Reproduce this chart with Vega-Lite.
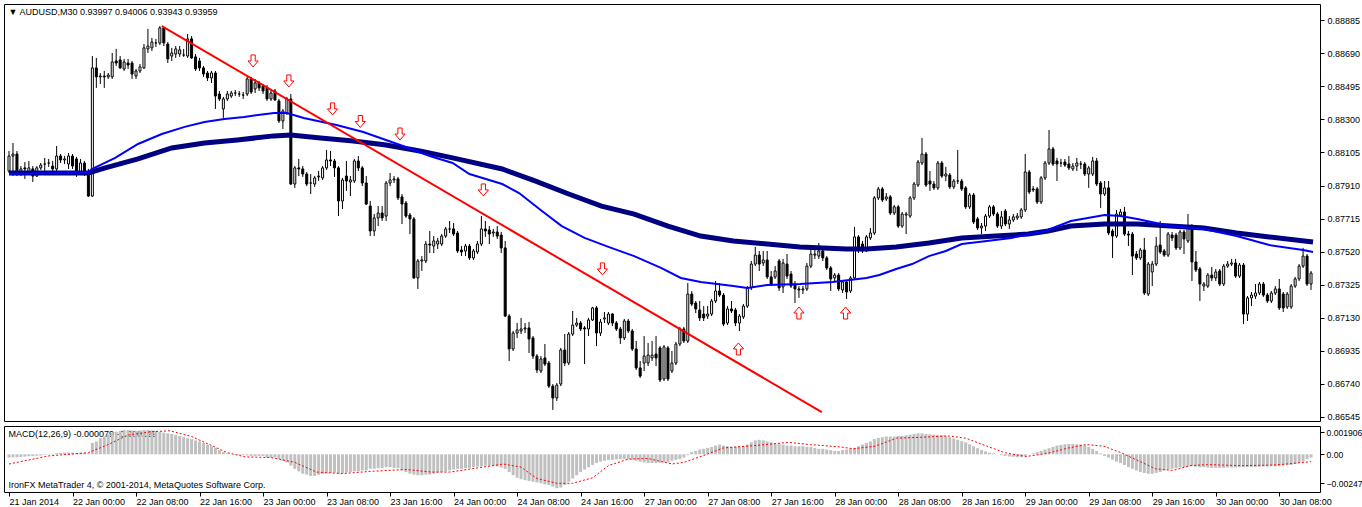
{
  "$schema": "https://vega.github.io/schema/vega-lite/v6.json",
  "padding": {"left": 3, "top": 3, "right": 0, "bottom": 0},
  "background": "white",
  "spacing": 2,
  "config": {
    "view": {"stroke": "black", "strokeWidth": 1},
    "font": "Liberation Sans",
    "axis": {"grid": false, "labelOverlap": false, "labelSeparation": 0, "labelBound": false}
  },
  "datasets": {
    "bars": [
      {"i":0,"o":0.87996,"h":0.88114,"l":0.87984,"c":0.88084,"m":-0.00028},
      {"i":1,"o":0.88084,"h":0.88161,"l":0.87966,"c":0.88096,"m":-0.00026},
      {"i":2,"o":0.88096,"h":0.88114,"l":0.87966,"c":0.87978,"m":-0.00025},
      {"i":3,"o":0.87978,"h":0.88025,"l":0.87966,"c":0.88008,"m":-0.00022},
      {"i":4,"o":0.88014,"h":0.88049,"l":0.87949,"c":0.88008,"m":-0.0002},
      {"i":5,"o":0.87984,"h":0.88055,"l":0.87972,"c":0.88014,"m":-0.00017},
      {"i":6,"o":0.88008,"h":0.88025,"l":0.87931,"c":0.87966,"m":-0.00015},
      {"i":7,"o":0.87966,"h":0.88025,"l":0.87961,"c":0.88014,"m":-0.00012},
      {"i":8,"o":0.88014,"h":0.88043,"l":0.88002,"c":0.88031,"m":-0.0001},
      {"i":9,"o":0.88037,"h":0.88073,"l":0.87996,"c":0.88037,"m":-0.00006},
      {"i":10,"o":0.88043,"h":0.88067,"l":0.8802,"c":0.88043,"m":-0.00003},
      {"i":11,"o":0.88025,"h":0.88055,"l":0.87996,"c":0.88008,"m":0.00005},
      {"i":12,"o":0.88008,"h":0.88143,"l":0.87996,"c":0.88084,"m":0.0001},
      {"i":13,"o":0.88084,"h":0.88096,"l":0.88043,"c":0.88061,"m":0.00012},
      {"i":14,"o":0.88061,"h":0.88084,"l":0.88037,"c":0.88067,"m":0.00014},
      {"i":15,"o":0.88037,"h":0.88102,"l":0.88008,"c":0.88084,"m":0.00015},
      {"i":16,"o":0.88084,"h":0.88096,"l":0.88008,"c":0.88025,"m":0.00014},
      {"i":17,"o":0.88067,"h":0.88079,"l":0.87961,"c":0.87978,"m":0.00012},
      {"i":18,"o":0.87984,"h":0.88067,"l":0.87972,"c":0.88043,"m":0.00013},
      {"i":19,"o":0.88043,"h":0.88055,"l":0.87966,"c":0.87984,"m":0.00012},
      {"i":20,"o":0.8799,"h":0.88008,"l":0.87843,"c":0.87848,"m":0.0001},
      {"i":21,"o":0.87848,"h":0.88674,"l":0.87843,"c":0.88604,"m":0.00097},
      {"i":22,"o":0.88604,"h":0.88663,"l":0.88486,"c":0.88551,"m":0.0011},
      {"i":23,"o":0.88551,"h":0.88574,"l":0.88509,"c":0.88556,"m":0.00138},
      {"i":24,"o":0.88556,"h":0.88586,"l":0.88486,"c":0.88551,"m":0.00152},
      {"i":25,"o":0.88551,"h":0.88574,"l":0.88539,"c":0.88562,"m":0.00171},
      {"i":26,"o":0.88551,"h":0.88692,"l":0.88539,"c":0.88639,"m":0.00185},
      {"i":27,"o":0.88645,"h":0.88716,"l":0.88615,"c":0.88633,"m":0.00193},
      {"i":28,"o":0.88651,"h":0.88674,"l":0.88598,"c":0.88604,"m":0.00201},
      {"i":29,"o":0.88598,"h":0.88657,"l":0.88586,"c":0.88639,"m":0.00207},
      {"i":30,"o":0.88633,"h":0.88657,"l":0.88598,"c":0.88621,"m":0.00207},
      {"i":31,"o":0.88633,"h":0.88645,"l":0.88539,"c":0.88568,"m":0.00204},
      {"i":32,"o":0.88556,"h":0.88598,"l":0.88539,"c":0.88586,"m":0.00201},
      {"i":33,"o":0.88586,"h":0.88627,"l":0.88574,"c":0.8861,"m":0.00204},
      {"i":34,"o":0.88604,"h":0.88745,"l":0.88598,"c":0.88722,"m":0.00207},
      {"i":35,"o":0.88716,"h":0.88834,"l":0.88692,"c":0.88733,"m":0.00207},
      {"i":36,"o":0.88722,"h":0.88781,"l":0.88704,"c":0.88757,"m":0.00204},
      {"i":37,"o":0.88751,"h":0.88775,"l":0.88728,"c":0.88751,"m":0.00201},
      {"i":38,"o":0.88751,"h":0.88851,"l":0.88739,"c":0.8884,"m":0.00193},
      {"i":39,"o":0.8884,"h":0.88846,"l":0.88733,"c":0.88751,"m":0.00185},
      {"i":40,"o":0.88745,"h":0.88757,"l":0.88633,"c":0.88657,"m":0.00179},
      {"i":41,"o":0.88674,"h":0.88722,"l":0.88645,"c":0.88692,"m":0.00174},
      {"i":42,"o":0.88686,"h":0.88733,"l":0.88663,"c":0.88716,"m":0.00166},
      {"i":43,"o":0.88686,"h":0.88733,"l":0.88669,"c":0.8871,"m":0.00157},
      {"i":44,"o":0.8868,"h":0.88716,"l":0.88669,"c":0.8868,"m":0.00146},
      {"i":45,"o":0.88674,"h":0.88804,"l":0.88663,"c":0.88775,"m":0.00138},
      {"i":46,"o":0.88775,"h":0.88792,"l":0.88657,"c":0.88663,"m":0.0013},
      {"i":47,"o":0.88669,"h":0.88686,"l":0.88586,"c":0.88598,"m":0.00119},
      {"i":48,"o":0.88645,"h":0.88663,"l":0.88586,"c":0.88604,"m":0.0011},
      {"i":49,"o":0.88604,"h":0.88615,"l":0.88551,"c":0.88568,"m":0.00097},
      {"i":50,"o":0.88574,"h":0.88586,"l":0.88527,"c":0.88545,"m":0.00083},
      {"i":51,"o":0.88545,"h":0.88586,"l":0.88515,"c":0.88574,"m":0.00069},
      {"i":52,"o":0.88574,"h":0.88586,"l":0.88362,"c":0.88438,"m":0.00055},
      {"i":53,"o":0.8845,"h":0.88468,"l":0.88409,"c":0.88421,"m":0.00036},
      {"i":54,"o":0.88362,"h":0.88433,"l":0.88309,"c":0.88421,"m":0.00019},
      {"i":55,"o":0.88421,"h":0.88468,"l":0.88409,"c":0.8845,"m":0.00008},
      {"i":56,"o":0.88438,"h":0.88468,"l":0.88427,"c":0.88456,"m":0},
      {"i":57,"o":0.88456,"h":0.88474,"l":0.88438,"c":0.88456,"m":-0.00005},
      {"i":58,"o":0.8845,"h":0.88468,"l":0.88433,"c":0.8845,"m":-0.00008},
      {"i":59,"o":0.88444,"h":0.88462,"l":0.88421,"c":0.88444,"m":-0.00008},
      {"i":60,"o":0.8845,"h":0.88551,"l":0.88438,"c":0.88539,"m":-0.0001},
      {"i":61,"o":0.88539,"h":0.88551,"l":0.8845,"c":0.88462,"m":-0.00014},
      {"i":62,"o":0.8848,"h":0.88539,"l":0.88456,"c":0.88515,"m":-0.00014},
      {"i":63,"o":0.88515,"h":0.88527,"l":0.88468,"c":0.88486,"m":-0.00014},
      {"i":64,"o":0.88497,"h":0.88509,"l":0.8845,"c":0.88468,"m":-0.00014},
      {"i":65,"o":0.88486,"h":0.88503,"l":0.88409,"c":0.88421,"m":-0.00028},
      {"i":66,"o":0.88421,"h":0.8848,"l":0.88409,"c":0.88456,"m":-0.00028},
      {"i":67,"o":0.88468,"h":0.8848,"l":0.88409,"c":0.88415,"m":-0.00028},
      {"i":68,"o":0.88409,"h":0.88421,"l":0.88279,"c":0.88291,"m":-0.00041},
      {"i":69,"o":0.88291,"h":0.88362,"l":0.88244,"c":0.8835,"m":-0.00055},
      {"i":70,"o":0.88338,"h":0.88433,"l":0.88326,"c":0.88421,"m":-0.00069},
      {"i":71,"o":0.88421,"h":0.8845,"l":0.87913,"c":0.87919,"m":-0.00097},
      {"i":72,"o":0.87919,"h":0.88025,"l":0.87896,"c":0.88014,"m":-0.00124},
      {"i":73,"o":0.88014,"h":0.88067,"l":0.87966,"c":0.88008,"m":-0.00146},
      {"i":74,"o":0.88008,"h":0.88025,"l":0.87961,"c":0.87978,"m":-0.00166},
      {"i":75,"o":0.87978,"h":0.8799,"l":0.87907,"c":0.87919,"m":-0.00174},
      {"i":76,"o":0.87925,"h":0.87978,"l":0.8786,"c":0.87925,"m":-0.00185},
      {"i":77,"o":0.87919,"h":0.87966,"l":0.87902,"c":0.87955,"m":-0.00185},
      {"i":78,"o":0.87961,"h":0.87996,"l":0.87937,"c":0.87966,"m":-0.00174},
      {"i":79,"o":0.87955,"h":0.88025,"l":0.87943,"c":0.88014,"m":-0.00168},
      {"i":80,"o":0.88014,"h":0.8812,"l":0.88002,"c":0.88061,"m":-0.00163},
      {"i":81,"o":0.88061,"h":0.88114,"l":0.88025,"c":0.88055,"m":-0.0016},
      {"i":82,"o":0.88055,"h":0.88067,"l":0.87961,"c":0.88014,"m":-0.00157},
      {"i":83,"o":0.88014,"h":0.88025,"l":0.8773,"c":0.87819,"m":-0.00166},
      {"i":84,"o":0.87819,"h":0.87955,"l":0.87772,"c":0.87943,"m":-0.00163},
      {"i":85,"o":0.87966,"h":0.88055,"l":0.87878,"c":0.87937,"m":-0.00157},
      {"i":86,"o":0.87931,"h":0.87966,"l":0.87848,"c":0.87943,"m":-0.00152},
      {"i":87,"o":0.87937,"h":0.88067,"l":0.87925,"c":0.88055,"m":-0.00146},
      {"i":88,"o":0.88055,"h":0.88084,"l":0.87996,"c":0.88014,"m":-0.00146},
      {"i":89,"o":0.88014,"h":0.88025,"l":0.87907,"c":0.87925,"m":-0.00138},
      {"i":90,"o":0.87925,"h":0.87966,"l":0.87795,"c":0.87801,"m":-0.00138},
      {"i":91,"o":0.87789,"h":0.87819,"l":0.87612,"c":0.87642,"m":-0.00124},
      {"i":92,"o":0.87642,"h":0.87742,"l":0.87612,"c":0.87719,"m":-0.00124},
      {"i":93,"o":0.87719,"h":0.87789,"l":0.87671,"c":0.87748,"m":-0.00119},
      {"i":94,"o":0.87748,"h":0.87789,"l":0.87701,"c":0.87719,"m":-0.00119},
      {"i":95,"o":0.8773,"h":0.87937,"l":0.87701,"c":0.87925,"m":-0.0011},
      {"i":96,"o":0.87925,"h":0.87984,"l":0.87907,"c":0.87943,"m":-0.0011},
      {"i":97,"o":0.87943,"h":0.87966,"l":0.87925,"c":0.87949,"m":-0.00116},
      {"i":98,"o":0.87949,"h":0.87961,"l":0.87825,"c":0.87837,"m":-0.00119},
      {"i":99,"o":0.87843,"h":0.8786,"l":0.87683,"c":0.87801,"m":-0.00138},
      {"i":100,"o":0.87807,"h":0.87819,"l":0.87719,"c":0.8773,"m":-0.00152},
      {"i":101,"o":0.87736,"h":0.87748,"l":0.87624,"c":0.87713,"m":-0.00166},
      {"i":102,"o":0.87713,"h":0.87725,"l":0.87359,"c":0.87365,"m":-0.00174},
      {"i":103,"o":0.87365,"h":0.87477,"l":0.873,"c":0.87465,"m":-0.00179},
      {"i":104,"o":0.87465,"h":0.87494,"l":0.87406,"c":0.87471,"m":-0.00179},
      {"i":105,"o":0.87465,"h":0.87583,"l":0.87453,"c":0.87565,"m":-0.00174},
      {"i":106,"o":0.87565,"h":0.87642,"l":0.87512,"c":0.87559,"m":-0.00174},
      {"i":107,"o":0.87553,"h":0.87612,"l":0.87512,"c":0.87583,"m":-0.00166},
      {"i":108,"o":0.87565,"h":0.87601,"l":0.87536,"c":0.87583,"m":-0.00157},
      {"i":109,"o":0.87565,"h":0.87624,"l":0.87553,"c":0.87612,"m":-0.00152},
      {"i":110,"o":0.87612,"h":0.87666,"l":0.87601,"c":0.87654,"m":-0.00146},
      {"i":111,"o":0.87654,"h":0.87701,"l":0.8763,"c":0.87654,"m":-0.00138},
      {"i":112,"o":0.87654,"h":0.87689,"l":0.87612,"c":0.87624,"m":-0.0013},
      {"i":113,"o":0.8763,"h":0.87642,"l":0.87512,"c":0.87524,"m":-0.00124},
      {"i":114,"o":0.8753,"h":0.87553,"l":0.87494,"c":0.87518,"m":-0.00124},
      {"i":115,"o":0.87524,"h":0.87565,"l":0.87494,"c":0.87553,"m":-0.00119},
      {"i":116,"o":0.87553,"h":0.87565,"l":0.87471,"c":0.87483,"m":-0.00116},
      {"i":117,"o":0.87483,"h":0.87536,"l":0.87471,"c":0.87524,"m":-0.0011},
      {"i":118,"o":0.87518,"h":0.87583,"l":0.87506,"c":0.87565,"m":-0.00105},
      {"i":119,"o":0.87565,"h":0.8773,"l":0.87553,"c":0.87654,"m":-0.00102},
      {"i":120,"o":0.87654,"h":0.87701,"l":0.87607,"c":0.87642,"m":-0.00097},
      {"i":121,"o":0.87648,"h":0.87671,"l":0.87565,"c":0.87624,"m":-0.00097},
      {"i":122,"o":0.8763,"h":0.87654,"l":0.87607,"c":0.87636,"m":-0.00097},
      {"i":123,"o":0.87636,"h":0.87671,"l":0.87595,"c":0.87612,"m":-0.00105},
      {"i":124,"o":0.87618,"h":0.87636,"l":0.87512,"c":0.87542,"m":-0.00113},
      {"i":125,"o":0.87542,"h":0.87583,"l":0.87135,"c":0.8714,"m":-0.00124},
      {"i":126,"o":0.8714,"h":0.87152,"l":0.86875,"c":0.86946,"m":-0.00152},
      {"i":127,"o":0.86946,"h":0.87052,"l":0.86934,"c":0.8704,"m":-0.00179},
      {"i":128,"o":0.8704,"h":0.87099,"l":0.87011,"c":0.87058,"m":-0.00201},
      {"i":129,"o":0.87052,"h":0.87129,"l":0.87034,"c":0.87064,"m":-0.00213},
      {"i":130,"o":0.87064,"h":0.87099,"l":0.8704,"c":0.8707,"m":-0.00221},
      {"i":131,"o":0.8707,"h":0.87105,"l":0.86922,"c":0.87005,"m":-0.00229},
      {"i":132,"o":0.87011,"h":0.87022,"l":0.86887,"c":0.86904,"m":-0.00235},
      {"i":133,"o":0.86904,"h":0.86916,"l":0.86804,"c":0.86822,"m":-0.0024},
      {"i":134,"o":0.86816,"h":0.86904,"l":0.86804,"c":0.86887,"m":-0.00248},
      {"i":135,"o":0.86893,"h":0.86975,"l":0.86845,"c":0.86857,"m":-0.00257},
      {"i":136,"o":0.86863,"h":0.86875,"l":0.86716,"c":0.86727,"m":-0.00262},
      {"i":137,"o":0.86727,"h":0.86739,"l":0.86586,"c":0.86657,"m":-0.00276},
      {"i":138,"o":0.86657,"h":0.86745,"l":0.86639,"c":0.86733,"m":-0.0029},
      {"i":139,"o":0.86739,"h":0.86952,"l":0.86727,"c":0.8694,"m":-0.00284},
      {"i":140,"o":0.8694,"h":0.87034,"l":0.86845,"c":0.86863,"m":-0.00262},
      {"i":141,"o":0.86863,"h":0.87046,"l":0.86851,"c":0.87034,"m":-0.00235},
      {"i":142,"o":0.87034,"h":0.8717,"l":0.87022,"c":0.87087,"m":-0.00207},
      {"i":143,"o":0.87087,"h":0.87129,"l":0.87076,"c":0.87099,"m":-0.00179},
      {"i":144,"o":0.87099,"h":0.87111,"l":0.87052,"c":0.87064,"m":-0.00152},
      {"i":145,"o":0.8707,"h":0.87081,"l":0.86857,"c":0.87064,"m":-0.0013},
      {"i":146,"o":0.87064,"h":0.87129,"l":0.87022,"c":0.87117,"m":-0.0011},
      {"i":147,"o":0.87117,"h":0.87194,"l":0.87111,"c":0.87188,"m":-0.00091},
      {"i":148,"o":0.87188,"h":0.87199,"l":0.86963,"c":0.8704,"m":-0.00075},
      {"i":149,"o":0.8704,"h":0.87123,"l":0.87022,"c":0.87105,"m":-0.00063},
      {"i":150,"o":0.87123,"h":0.87164,"l":0.87099,"c":0.87129,"m":-0.00055},
      {"i":151,"o":0.87099,"h":0.87164,"l":0.87087,"c":0.87152,"m":-0.00049},
      {"i":152,"o":0.87152,"h":0.87158,"l":0.87081,"c":0.87099,"m":-0.00047},
      {"i":153,"o":0.87099,"h":0.87111,"l":0.87052,"c":0.87064,"m":-0.00044},
      {"i":154,"o":0.87064,"h":0.87076,"l":0.86975,"c":0.87011,"m":-0.00041},
      {"i":155,"o":0.87011,"h":0.87123,"l":0.86999,"c":0.87111,"m":-0.00041},
      {"i":156,"o":0.87111,"h":0.87123,"l":0.8704,"c":0.87052,"m":-0.00044},
      {"i":157,"o":0.87052,"h":0.87064,"l":0.86934,"c":0.86946,"m":-0.00047},
      {"i":158,"o":0.86946,"h":0.86993,"l":0.86822,"c":0.86834,"m":-0.00055},
      {"i":159,"o":0.86834,"h":0.86875,"l":0.86775,"c":0.86786,"m":-0.00063},
      {"i":160,"o":0.86863,"h":0.87022,"l":0.86816,"c":0.86904,"m":-0.00069},
      {"i":161,"o":0.86863,"h":0.86981,"l":0.86845,"c":0.8691,"m":-0.00075},
      {"i":162,"o":0.86893,"h":0.86993,"l":0.86875,"c":0.8691,"m":-0.00075},
      {"i":163,"o":0.86916,"h":0.87022,"l":0.86845,"c":0.86893,"m":-0.00075},
      {"i":164,"o":0.86952,"h":0.86963,"l":0.86751,"c":0.86763,"m":-0.00072},
      {"i":165,"o":0.86769,"h":0.86969,"l":0.86757,"c":0.86958,"m":-0.00069},
      {"i":166,"o":0.86952,"h":0.86963,"l":0.86757,"c":0.86769,"m":-0.00069},
      {"i":167,"o":0.86816,"h":0.86934,"l":0.86804,"c":0.86863,"m":-0.00055},
      {"i":168,"o":0.86863,"h":0.86987,"l":0.86851,"c":0.86975,"m":-0.00047},
      {"i":169,"o":0.86975,"h":0.87076,"l":0.86963,"c":0.87064,"m":-0.00041},
      {"i":170,"o":0.87064,"h":0.87076,"l":0.86981,"c":0.86993,"m":-0.00028},
      {"i":171,"o":0.86993,"h":0.87335,"l":0.86981,"c":0.8727,"m":-0.00008},
      {"i":172,"o":0.8727,"h":0.87288,"l":0.87199,"c":0.87211,"m":0.00019},
      {"i":173,"o":0.87217,"h":0.87229,"l":0.87158,"c":0.87182,"m":0.00028},
      {"i":174,"o":0.87176,"h":0.87229,"l":0.87111,"c":0.87129,"m":0.00041},
      {"i":175,"o":0.87152,"h":0.87199,"l":0.87111,"c":0.87129,"m":0.00047},
      {"i":176,"o":0.8714,"h":0.87199,"l":0.87123,"c":0.87152,"m":0.00055},
      {"i":177,"o":0.87152,"h":0.87241,"l":0.8714,"c":0.87229,"m":0.00063},
      {"i":178,"o":0.87229,"h":0.87347,"l":0.87217,"c":0.87288,"m":0.00075},
      {"i":179,"o":0.87288,"h":0.87335,"l":0.87253,"c":0.87264,"m":0.00083},
      {"i":180,"o":0.87264,"h":0.87276,"l":0.87081,"c":0.87093,"m":0.00075},
      {"i":181,"o":0.87099,"h":0.87199,"l":0.87087,"c":0.87182,"m":0.00069},
      {"i":182,"o":0.87182,"h":0.87229,"l":0.87158,"c":0.8717,"m":0.00063},
      {"i":183,"o":0.87176,"h":0.87188,"l":0.87081,"c":0.87099,"m":0.00063},
      {"i":184,"o":0.87099,"h":0.87152,"l":0.87052,"c":0.8714,"m":0.00063},
      {"i":185,"o":0.87135,"h":0.87211,"l":0.87123,"c":0.87199,"m":0.00069},
      {"i":186,"o":0.87199,"h":0.87317,"l":0.87188,"c":0.87306,"m":0.00083},
      {"i":187,"o":0.87306,"h":0.87465,"l":0.87294,"c":0.87447,"m":0.00102},
      {"i":188,"o":0.87447,"h":0.87548,"l":0.87435,"c":0.875,"m":0.00119},
      {"i":189,"o":0.875,"h":0.87524,"l":0.87406,"c":0.87447,"m":0.00124},
      {"i":190,"o":0.87453,"h":0.87524,"l":0.87435,"c":0.87471,"m":0.00119},
      {"i":191,"o":0.87471,"h":0.87524,"l":0.87359,"c":0.87371,"m":0.0011},
      {"i":192,"o":0.87371,"h":0.87406,"l":0.87317,"c":0.87329,"m":0.00102},
      {"i":193,"o":0.87371,"h":0.87435,"l":0.87359,"c":0.87406,"m":0.00091},
      {"i":194,"o":0.87465,"h":0.87477,"l":0.87288,"c":0.87306,"m":0.00086},
      {"i":195,"o":0.87312,"h":0.87477,"l":0.87276,"c":0.87453,"m":0.00083},
      {"i":196,"o":0.87447,"h":0.87506,"l":0.87359,"c":0.87376,"m":0.00075},
      {"i":197,"o":0.87388,"h":0.87406,"l":0.87306,"c":0.87317,"m":0.00075},
      {"i":198,"o":0.87329,"h":0.87347,"l":0.87217,"c":0.873,"m":0.00069},
      {"i":199,"o":0.873,"h":0.87317,"l":0.87247,"c":0.87294,"m":0.00069},
      {"i":200,"o":0.87294,"h":0.87317,"l":0.8727,"c":0.873,"m":0.00069},
      {"i":201,"o":0.873,"h":0.87453,"l":0.87288,"c":0.87435,"m":0.00063},
      {"i":202,"o":0.87435,"h":0.87536,"l":0.87424,"c":0.87506,"m":0.00063},
      {"i":203,"o":0.875,"h":0.87536,"l":0.87477,"c":0.87506,"m":0.00055},
      {"i":204,"o":0.87494,"h":0.87571,"l":0.87477,"c":0.87524,"m":0.00047},
      {"i":205,"o":0.87524,"h":0.87536,"l":0.87465,"c":0.87483,"m":0.00047},
      {"i":206,"o":0.87483,"h":0.87494,"l":0.87412,"c":0.87424,"m":0.00041},
      {"i":207,"o":0.87424,"h":0.87435,"l":0.87288,"c":0.87359,"m":0.00036},
      {"i":208,"o":0.87365,"h":0.87394,"l":0.87347,"c":0.87382,"m":0.00028},
      {"i":209,"o":0.87382,"h":0.87394,"l":0.87288,"c":0.873,"m":0.00028},
      {"i":210,"o":0.87294,"h":0.87353,"l":0.87276,"c":0.87341,"m":0.00036},
      {"i":211,"o":0.87341,"h":0.87353,"l":0.87241,"c":0.87282,"m":0.00041},
      {"i":212,"o":0.87288,"h":0.87376,"l":0.87276,"c":0.87365,"m":0.00047},
      {"i":213,"o":0.87365,"h":0.87666,"l":0.87353,"c":0.87607,"m":0.00055},
      {"i":214,"o":0.87607,"h":0.87618,"l":0.87512,"c":0.8753,"m":0.00069},
      {"i":215,"o":0.87565,"h":0.87583,"l":0.87512,"c":0.87524,"m":0.00083},
      {"i":216,"o":0.8753,"h":0.87618,"l":0.87518,"c":0.87607,"m":0.00097},
      {"i":217,"o":0.87601,"h":0.8766,"l":0.87589,"c":0.8763,"m":0.0011},
      {"i":218,"o":0.8763,"h":0.87848,"l":0.87618,"c":0.87837,"m":0.0013},
      {"i":219,"o":0.87837,"h":0.87902,"l":0.87825,"c":0.8789,"m":0.00141},
      {"i":220,"o":0.8789,"h":0.87902,"l":0.87813,"c":0.87825,"m":0.00146},
      {"i":221,"o":0.87831,"h":0.87866,"l":0.87819,"c":0.87843,"m":0.00152},
      {"i":222,"o":0.87843,"h":0.87854,"l":0.87736,"c":0.87748,"m":0.00152},
      {"i":223,"o":0.87748,"h":0.87795,"l":0.87736,"c":0.87784,"m":0.00152},
      {"i":224,"o":0.87784,"h":0.87795,"l":0.8766,"c":0.87671,"m":0.00157},
      {"i":225,"o":0.87671,"h":0.87754,"l":0.8766,"c":0.87742,"m":0.00157},
      {"i":226,"o":0.87736,"h":0.87754,"l":0.87624,"c":0.87742,"m":0.00163},
      {"i":227,"o":0.8773,"h":0.87848,"l":0.87719,"c":0.87837,"m":0.00168},
      {"i":228,"o":0.87837,"h":0.87931,"l":0.87825,"c":0.87919,"m":0.00174},
      {"i":229,"o":0.87913,"h":0.88061,"l":0.87902,"c":0.88049,"m":0.00179},
      {"i":230,"o":0.88043,"h":0.88191,"l":0.88031,"c":0.88096,"m":0.00179},
      {"i":231,"o":0.88096,"h":0.88108,"l":0.87902,"c":0.87913,"m":0.00174},
      {"i":232,"o":0.87937,"h":0.87996,"l":0.87878,"c":0.87919,"m":0.00171},
      {"i":233,"o":0.87919,"h":0.87937,"l":0.87884,"c":0.87896,"m":0.00168},
      {"i":234,"o":0.87896,"h":0.88055,"l":0.87884,"c":0.88043,"m":0.00166},
      {"i":235,"o":0.88043,"h":0.88055,"l":0.87955,"c":0.87966,"m":0.00163},
      {"i":236,"o":0.87966,"h":0.8802,"l":0.87937,"c":0.87978,"m":0.00157},
      {"i":237,"o":0.87972,"h":0.87984,"l":0.8789,"c":0.87902,"m":0.00146},
      {"i":238,"o":0.87902,"h":0.87949,"l":0.8789,"c":0.87937,"m":0.00135},
      {"i":239,"o":0.87937,"h":0.8812,"l":0.87919,"c":0.87937,"m":0.00124},
      {"i":240,"o":0.87937,"h":0.87949,"l":0.87878,"c":0.8789,"m":0.00113},
      {"i":241,"o":0.87896,"h":0.87907,"l":0.87772,"c":0.87784,"m":0.00102},
      {"i":242,"o":0.87784,"h":0.87866,"l":0.87772,"c":0.87854,"m":0.00086},
      {"i":243,"o":0.87854,"h":0.87866,"l":0.87683,"c":0.87695,"m":0.00069},
      {"i":244,"o":0.87713,"h":0.87725,"l":0.87648,"c":0.8766,"m":0.00052},
      {"i":245,"o":0.8766,"h":0.87689,"l":0.87624,"c":0.87671,"m":0.00036},
      {"i":246,"o":0.87671,"h":0.87742,"l":0.87642,"c":0.8773,"m":0.00025},
      {"i":247,"o":0.8773,"h":0.87795,"l":0.87719,"c":0.87784,"m":0.00014},
      {"i":248,"o":0.87784,"h":0.87795,"l":0.8773,"c":0.87742,"m":0.00008},
      {"i":249,"o":0.87742,"h":0.87754,"l":0.8766,"c":0.87671,"m":0},
      {"i":250,"o":0.87671,"h":0.8776,"l":0.87654,"c":0.87725,"m":-0.00008},
      {"i":251,"o":0.8776,"h":0.87772,"l":0.87671,"c":0.87683,"m":-0.00014},
      {"i":252,"o":0.87683,"h":0.8773,"l":0.87654,"c":0.87707,"m":-0.00019},
      {"i":253,"o":0.87707,"h":0.87742,"l":0.87695,"c":0.87725,"m":-0.00022},
      {"i":254,"o":0.87719,"h":0.87748,"l":0.87707,"c":0.8773,"m":-0.00025},
      {"i":255,"o":0.87725,"h":0.87778,"l":0.87713,"c":0.87766,"m":-0.00025},
      {"i":256,"o":0.87766,"h":0.88096,"l":0.87754,"c":0.8799,"m":-0.00014},
      {"i":257,"o":0.8799,"h":0.88002,"l":0.8786,"c":0.87872,"m":0},
      {"i":258,"o":0.8789,"h":0.87907,"l":0.87872,"c":0.87884,"m":0.00008},
      {"i":259,"o":0.8789,"h":0.87902,"l":0.87801,"c":0.87813,"m":0.00019},
      {"i":260,"o":0.87813,"h":0.87966,"l":0.87801,"c":0.87955,"m":0.00028},
      {"i":261,"o":0.87955,"h":0.88055,"l":0.87943,"c":0.88043,"m":0.00041},
      {"i":262,"o":0.88043,"h":0.88238,"l":0.88031,"c":0.88126,"m":0.00052},
      {"i":263,"o":0.88126,"h":0.88138,"l":0.88025,"c":0.88037,"m":0.00063},
      {"i":264,"o":0.88055,"h":0.88073,"l":0.87937,"c":0.88037,"m":0.00075},
      {"i":265,"o":0.88043,"h":0.88067,"l":0.8802,"c":0.88043,"m":0.0008},
      {"i":266,"o":0.88049,"h":0.88067,"l":0.8802,"c":0.88031,"m":0.00086},
      {"i":267,"o":0.88037,"h":0.88084,"l":0.88002,"c":0.88014,"m":0.00088},
      {"i":268,"o":0.88008,"h":0.88043,"l":0.87996,"c":0.88025,"m":0.00088},
      {"i":269,"o":0.88025,"h":0.88073,"l":0.87996,"c":0.88043,"m":0.00086},
      {"i":270,"o":0.88037,"h":0.88055,"l":0.88008,"c":0.88037,"m":0.00083},
      {"i":271,"o":0.88037,"h":0.88049,"l":0.87966,"c":0.87978,"m":0.00075},
      {"i":272,"o":0.87978,"h":0.88025,"l":0.87896,"c":0.88014,"m":0.00063},
      {"i":273,"o":0.87978,"h":0.88079,"l":0.87966,"c":0.88055,"m":0.00047},
      {"i":274,"o":0.88055,"h":0.88073,"l":0.87907,"c":0.87919,"m":0.00028},
      {"i":275,"o":0.87925,"h":0.87937,"l":0.87778,"c":0.8786,"m":0.00008},
      {"i":276,"o":0.8786,"h":0.87937,"l":0.87848,"c":0.87896,"m":-0.00014},
      {"i":277,"o":0.87896,"h":0.87937,"l":0.87618,"c":0.8763,"m":-0.00028},
      {"i":278,"o":0.87642,"h":0.87654,"l":0.87483,"c":0.87612,"m":-0.00047},
      {"i":279,"o":0.87612,"h":0.87766,"l":0.87601,"c":0.87742,"m":-0.00063},
      {"i":280,"o":0.87736,"h":0.87772,"l":0.87725,"c":0.87754,"m":-0.00075},
      {"i":281,"o":0.87754,"h":0.87784,"l":0.87612,"c":0.87624,"m":-0.00091},
      {"i":282,"o":0.87624,"h":0.87642,"l":0.87553,"c":0.87618,"m":-0.0011},
      {"i":283,"o":0.87624,"h":0.87636,"l":0.87382,"c":0.87494,"m":-0.00124},
      {"i":284,"o":0.87506,"h":0.87524,"l":0.87471,"c":0.87483,"m":-0.00138},
      {"i":285,"o":0.87483,"h":0.87542,"l":0.87471,"c":0.8753,"m":-0.00152},
      {"i":286,"o":0.8753,"h":0.87601,"l":0.87264,"c":0.87276,"m":-0.0016},
      {"i":287,"o":0.8727,"h":0.87459,"l":0.87258,"c":0.87447,"m":-0.00166},
      {"i":288,"o":0.874,"h":0.87465,"l":0.87317,"c":0.87447,"m":-0.00166},
      {"i":289,"o":0.87447,"h":0.87607,"l":0.87435,"c":0.87553,"m":-0.0016},
      {"i":290,"o":0.87559,"h":0.87701,"l":0.87506,"c":0.87518,"m":-0.00152},
      {"i":291,"o":0.87524,"h":0.87536,"l":0.87489,"c":0.875,"m":-0.00138},
      {"i":292,"o":0.875,"h":0.87636,"l":0.87489,"c":0.87624,"m":-0.0013},
      {"i":293,"o":0.87618,"h":0.87636,"l":0.87583,"c":0.87601,"m":-0.00124},
      {"i":294,"o":0.87618,"h":0.8763,"l":0.8753,"c":0.87542,"m":-0.00119},
      {"i":295,"o":0.87542,"h":0.87648,"l":0.8753,"c":0.87636,"m":-0.00113},
      {"i":296,"o":0.87636,"h":0.87648,"l":0.87506,"c":0.87595,"m":-0.0011},
      {"i":297,"o":0.87583,"h":0.87742,"l":0.87571,"c":0.87671,"m":-0.00105},
      {"i":298,"o":0.87671,"h":0.87683,"l":0.87347,"c":0.87459,"m":-0.00102},
      {"i":299,"o":0.87459,"h":0.87524,"l":0.874,"c":0.87412,"m":-0.00105},
      {"i":300,"o":0.87418,"h":0.8743,"l":0.87229,"c":0.87329,"m":-0.0011},
      {"i":301,"o":0.87317,"h":0.87341,"l":0.87288,"c":0.87329,"m":-0.0011},
      {"i":302,"o":0.87317,"h":0.87394,"l":0.87306,"c":0.87382,"m":-0.00113},
      {"i":303,"o":0.87382,"h":0.8743,"l":0.87347,"c":0.87365,"m":-0.00116},
      {"i":304,"o":0.87365,"h":0.87418,"l":0.87347,"c":0.874,"m":-0.00116},
      {"i":305,"o":0.87406,"h":0.87418,"l":0.87317,"c":0.87329,"m":-0.00116},
      {"i":306,"o":0.87329,"h":0.87447,"l":0.87317,"c":0.87435,"m":-0.00116},
      {"i":307,"o":0.87435,"h":0.87465,"l":0.87424,"c":0.87447,"m":-0.00113},
      {"i":308,"o":0.87447,"h":0.87477,"l":0.87435,"c":0.87453,"m":-0.00113},
      {"i":309,"o":0.87453,"h":0.87477,"l":0.87365,"c":0.87376,"m":-0.00113},
      {"i":310,"o":0.87376,"h":0.87453,"l":0.87365,"c":0.87441,"m":-0.0011},
      {"i":311,"o":0.87441,"h":0.87453,"l":0.87093,"c":0.87152,"m":-0.0011},
      {"i":312,"o":0.87152,"h":0.87258,"l":0.87111,"c":0.87247,"m":-0.0011},
      {"i":313,"o":0.87247,"h":0.87282,"l":0.87199,"c":0.87264,"m":-0.0011},
      {"i":314,"o":0.87258,"h":0.87329,"l":0.87241,"c":0.87276,"m":-0.0011},
      {"i":315,"o":0.87276,"h":0.87341,"l":0.87264,"c":0.87329,"m":-0.00107},
      {"i":316,"o":0.87329,"h":0.87341,"l":0.87253,"c":0.87264,"m":-0.00105},
      {"i":317,"o":0.87264,"h":0.87276,"l":0.87217,"c":0.87229,"m":-0.00105},
      {"i":318,"o":0.87229,"h":0.87288,"l":0.87217,"c":0.87276,"m":-0.00102},
      {"i":319,"o":0.87276,"h":0.87317,"l":0.87264,"c":0.873,"m":-0.00102},
      {"i":320,"o":0.873,"h":0.87359,"l":0.87176,"c":0.87188,"m":-0.00102},
      {"i":321,"o":0.8727,"h":0.87282,"l":0.87164,"c":0.87188,"m":-0.00097},
      {"i":322,"o":0.87194,"h":0.87282,"l":0.87182,"c":0.8727,"m":-0.00094},
      {"i":323,"o":0.87194,"h":0.87329,"l":0.87182,"c":0.87317,"m":-0.00091},
      {"i":324,"o":0.87317,"h":0.87371,"l":0.87306,"c":0.87359,"m":-0.00083},
      {"i":325,"o":0.87359,"h":0.87447,"l":0.87347,"c":0.87435,"m":-0.00075},
      {"i":326,"o":0.87435,"h":0.87542,"l":0.87424,"c":0.87494,"m":-0.00063},
      {"i":327,"o":0.87494,"h":0.87506,"l":0.87317,"c":0.87329,"m":-0.00041},
      {"i":328,"o":0.87329,"h":0.87406,"l":0.87294,"c":0.87394,"m":-0.00028}
    ],
    "fast": [
      {"i":0,"p":0.87978},{"i":20,"p":0.8799},{"i":21,"p":0.88008},{"i":26.75,"p":0.88073},{"i":32.5,"p":0.88155},{"i":38.5,"p":0.88214},{"i":44.25,"p":0.88256},{"i":49.25,"p":0.88285},{"i":54.25,"p":0.88303},{"i":59.25,"p":0.88315},{"i":66.75,"p":0.88338},{"i":70,"p":0.88338},{"i":74.25,"p":0.88309},{"i":82.5,"p":0.88267},{"i":89.25,"p":0.88226},{"i":99.25,"p":0.88143},{"i":106,"p":0.88084},{"i":111.75,"p":0.88043},{"i":116,"p":0.87978},{"i":124.25,"p":0.87919},{"i":128.5,"p":0.87866},{"i":134.25,"p":0.8776},{"i":139.25,"p":0.87671},{"i":145,"p":0.87601},{"i":151,"p":0.87548},{"i":157.5,"p":0.87494},{"i":164.25,"p":0.87424},{"i":169.25,"p":0.87365},{"i":174.25,"p":0.87341},{"i":182.5,"p":0.87317},{"i":186,"p":0.87306},{"i":191,"p":0.87323},{"i":199.25,"p":0.87329},{"i":207.5,"p":0.87341},{"i":216,"p":0.87365},{"i":219.25,"p":0.87382},{"i":223.5,"p":0.87418},{"i":227.5,"p":0.87447},{"i":231.75,"p":0.87494},{"i":236,"p":0.87524},{"i":240,"p":0.87565},{"i":244.25,"p":0.87577},{"i":252.5,"p":0.87601},{"i":261,"p":0.87642},{"i":267.5,"p":0.87701},{"i":276,"p":0.87736},{"i":280,"p":0.8773},{"i":284.25,"p":0.87713},{"i":292.5,"p":0.87671},{"i":301,"p":0.87654},{"i":309.25,"p":0.87612},{"i":317.5,"p":0.87559},{"i":326,"p":0.8753},{"i":328.5,"p":0.87518}
    ],
    "slow": [
      {"i":0,"p":0.87984},{"i":20,"p":0.87984},{"i":24.25,"p":0.88014},{"i":32.5,"p":0.88067},{"i":41,"p":0.88132},{"i":49.25,"p":0.88161},{"i":57.5,"p":0.88179},{"i":66.75,"p":0.88203},{"i":71,"p":0.88208},{"i":78.5,"p":0.88191},{"i":86.75,"p":0.88173},{"i":95,"p":0.88149},{"i":103.5,"p":0.88114},{"i":111.75,"p":0.88073},{"i":124.25,"p":0.88008},{"i":132.5,"p":0.87937},{"i":141,"p":0.8786},{"i":149.25,"p":0.87789},{"i":157.5,"p":0.87742},{"i":166,"p":0.87671},{"i":174.25,"p":0.87612},{"i":182.5,"p":0.87583},{"i":191,"p":0.87565},{"i":199.25,"p":0.87548},{"i":211,"p":0.87536},{"i":216,"p":0.87536},{"i":223.5,"p":0.87548},{"i":231.75,"p":0.87571},{"i":240,"p":0.87601},{"i":248.5,"p":0.87612},{"i":256.75,"p":0.87624},{"i":261.75,"p":0.87642},{"i":267.5,"p":0.87671},{"i":276,"p":0.87683},{"i":284.25,"p":0.87683},{"i":292.5,"p":0.87671},{"i":301,"p":0.8766},{"i":309.25,"p":0.8763},{"i":317.5,"p":0.87607},{"i":328.5,"p":0.87577}
    ],
    "trend": [
      {"i":38.5,"p":0.88851},{"i":204.75,"p":0.86574}
    ],
    "arrows": [
      {"i":61.5,"p":0.88645,"d":"dn"},{"i":70.5,"p":0.88527,"d":"dn"},{"i":81.5,"p":0.88362,"d":"dn"},{"i":88.5,"p":0.88288,"d":"dn"},{"i":98.5,"p":0.88214,"d":"dn"},{"i":119.5,"p":0.87884,"d":"dn"},{"i":149.5,"p":0.87418,"d":"dn"},
      {"i":183.75,"p":0.86946,"d":"up"},{"i":199,"p":0.87158,"d":"up"},{"i":210.75,"p":0.87158,"d":"up"}
    ],
    "signal": [
      {"i":0,"v":-0.00083},{"i":10,"v":-0.00014},{"i":20,"v":0.00014},{"i":25,"v":0.00083},{"i":30,"v":0.00165},{"i":36,"v":0.00193},{"i":40.5,"v":0.00201},{"i":46,"v":0.00152},{"i":50.5,"v":0.00083},{"i":55,"v":0.00014},{"i":59.5,"v":-0.00022},{"i":66,"v":-0.00028},{"i":72,"v":-0.00069},{"i":77.5,"v":-0.00152},{"i":84,"v":-0.00165},{"i":91,"v":-0.00146},{"i":100,"v":-0.0013},{"i":106.5,"v":-0.00152},{"i":111,"v":-0.00152},{"i":117.5,"v":-0.00119},{"i":124.5,"v":-0.00083},{"i":129,"v":-0.0011},{"i":133,"v":-0.00207},{"i":138,"v":-0.00248},{"i":142,"v":-0.00248},{"i":147,"v":-0.00201},{"i":151,"v":-0.00097},{"i":156,"v":-0.00041},{"i":161,"v":-0.00036},{"i":167,"v":-0.00083},{"i":170,"v":-0.00069},{"i":174.7,"v":-0.00014},{"i":180,"v":0.00055},{"i":187.7,"v":0.00074},{"i":196.4,"v":0.00102},{"i":201.9,"v":0.00083},{"i":209.5,"v":0.00063},{"i":212.7,"v":0.00047},{"i":218.2,"v":0.00069},{"i":223.6,"v":0.00138},{"i":230.1,"v":0.00146},{"i":236.6,"v":0.00157},{"i":241,"v":0.00138},{"i":245.3,"v":0.00083},{"i":250.8,"v":0.00014},{"i":256.2,"v":-0.00019},{"i":261.6,"v":0.00008},{"i":267,"v":0.00055},{"i":271.4,"v":0.00083},{"i":275.8,"v":0.00069},{"i":280.1,"v":0.00014},{"i":284.5,"v":-0.00055},{"i":288.8,"v":-0.00124},{"i":293.2,"v":-0.00138},{"i":297.5,"v":-0.00097},{"i":301.9,"v":-0.00088},{"i":310.6,"v":-0.00097},{"i":319.2,"v":-0.00091},{"i":328,"v":-0.00063}
    ]
  },
  "vconcat": [
    {
      "width": 1316,
      "height": 417,
      "layer": [
        {
          "data": {"name": "bars"},
          "mark": {"type": "rule", "color": "black", "strokeWidth": 1, "clip": true},
          "encoding": {
            "x": {"field": "i", "type": "quantitative", "scale": {"domain": [0, 329], "nice": false, "zero": false}, "axis": null},
            "y": {"field": "l", "type": "quantitative", "scale": {"domain": [0.86521, 0.88981], "nice": false, "zero": false},
              "axis": {"orient": "right", "values": [0.86545, 0.8674, 0.86935, 0.8713, 0.87325, 0.8752, 0.87715, 0.8791, 0.88105, 0.883, 0.88495, 0.8869, 0.88885], "tickCount": 30, "format": ".5f", "domain": false, "grid": false, "ticks": true, "tickSize": 4, "tickColor": "black", "labelPadding": 3, "labelFont": "Liberation Sans", "labelFontSize": 9, "labelColor": "black", "labelOverlap": false, "labelBound": false, "labelFlush": false, "labelSeparation": 0,
                "title": "▼ AUDUSD,M30  0.93997 0.94006 0.93943 0.93959", "titleAngle": 0, "titleAlign": "left", "titleBaseline": "top", "titleX": -1312, "titleY": 3, "titleFont": "Liberation Sans", "titleFontSize": 9, "titleFontWeight": "normal", "titleColor": "black"}},
            "y2": {"field": "h"}
          }
        },
        {
          "data": {"name": "bars"},
          "mark": {"type": "bar", "size": 2, "stroke": "black", "strokeWidth": 1, "clip": true},
          "encoding": {
            "x": {"field": "i", "type": "quantitative", "scale": {"domain": [0, 329], "nice": false, "zero": false}, "axis": null},
            "y": {"field": "o", "type": "quantitative", "scale": {"domain": [0.86521, 0.88981], "nice": false, "zero": false}},
            "y2": {"field": "c"},
            "fill": {"condition": {"test": "datum.c < datum.o", "value": "black"}, "value": "white"}
          }
        },
        {
          "data": {"name": "slow"},
          "mark": {"type": "line", "color": "#000080", "strokeWidth": 5, "clip": true},
          "encoding": {
            "x": {"field": "i", "type": "quantitative", "scale": {"domain": [0, 329], "nice": false, "zero": false}, "axis": null},
            "y": {"field": "p", "type": "quantitative", "scale": {"domain": [0.86521, 0.88981], "nice": false, "zero": false}}
          }
        },
        {
          "data": {"name": "fast"},
          "mark": {"type": "line", "color": "#0000ff", "strokeWidth": 2, "clip": true},
          "encoding": {
            "x": {"field": "i", "type": "quantitative", "scale": {"domain": [0, 329], "nice": false, "zero": false}, "axis": null},
            "y": {"field": "p", "type": "quantitative", "scale": {"domain": [0.86521, 0.88981], "nice": false, "zero": false}}
          }
        },
        {
          "data": {"name": "trend"},
          "mark": {"type": "line", "color": "#ff0000", "strokeWidth": 2, "clip": true},
          "encoding": {
            "x": {"field": "i", "type": "quantitative", "scale": {"domain": [0, 329], "nice": false, "zero": false}, "axis": null},
            "y": {"field": "p", "type": "quantitative", "scale": {"domain": [0.86521, 0.88981], "nice": false, "zero": false}}
          }
        },
        {
          "data": {"name": "arrows"},
          "transform": [{"filter": "datum.d == 'dn'"}],
          "mark": {"type": "point", "shape": "M-0.35,-1L0.35,-1L0.35,0L0.85,0L0,1L-0.85,0L-0.35,0Z", "size": 144, "filled": true, "fill": "white", "stroke": "#ff0000", "strokeWidth": 1, "opacity": 1},
          "encoding": {
            "x": {"field": "i", "type": "quantitative", "scale": {"domain": [0, 329], "nice": false, "zero": false}, "axis": null},
            "y": {"field": "p", "type": "quantitative", "scale": {"domain": [0.86521, 0.88981], "nice": false, "zero": false}}
          }
        },
        {
          "data": {"name": "arrows"},
          "transform": [{"filter": "datum.d == 'up'"}],
          "mark": {"type": "point", "shape": "M-0.35,1L0.35,1L0.35,0L0.85,0L0,-1L-0.85,0L-0.35,0Z", "size": 144, "filled": true, "fill": "white", "stroke": "#ff0000", "strokeWidth": 1, "opacity": 1},
          "encoding": {
            "x": {"field": "i", "type": "quantitative", "scale": {"domain": [0, 329], "nice": false, "zero": false}, "axis": null},
            "y": {"field": "p", "type": "quantitative", "scale": {"domain": [0.86521, 0.88981], "nice": false, "zero": false}}
          }
        }
      ]
    },
    {
      "width": 1316,
      "height": 66,
      "layer": [
        {
          "data": {"name": "bars"},
          "mark": {"type": "bar", "size": 3, "color": "#c0c0c0", "clip": true},
          "encoding": {
            "x": {"field": "i", "type": "quantitative", "scale": {"domain": [0, 329], "nice": false, "zero": false},
              "axis": {"orient": "bottom", "values": [0, 16, 32, 48, 64, 80, 96, 112, 128, 144, 160, 176, 192, 208, 224, 240, 256, 272, 288, 304, 320], "tickCount": 50,
                "labelExpr": "['21 Jan 2014','22 Jan 00:00','22 Jan 08:00','22 Jan 16:00','23 Jan 00:00','23 Jan 08:00','23 Jan 16:00','24 Jan 00:00','24 Jan 08:00','24 Jan 16:00','27 Jan 00:00','27 Jan 08:00','27 Jan 16:00','28 Jan 00:00','28 Jan 08:00','28 Jan 16:00','29 Jan 00:00','29 Jan 08:00','29 Jan 16:00','30 Jan 00:00','30 Jan 08:00'][round(datum.value/16)]",
                "labelAlign": "left", "labelPadding": 1, "labelFont": "Liberation Sans", "labelFontSize": 9, "labelColor": "black", "tickColor": "black", "tickSize": 4, "domain": false, "grid": false, "labelOverlap": false, "labelFlush": false, "labelBound": false,
                "title": "IronFX MetaTrader 4, © 2001-2014, MetaQuotes Software Corp.", "titleAnchor": "start", "titleAlign": "left", "titleBaseline": "bottom", "titleX": 4, "titleY": -3, "titleFont": "Liberation Sans", "titleFontSize": 9, "titleFontWeight": "normal", "titleColor": "black"}},
            "y": {"field": "m", "type": "quantitative", "scale": {"domain": [-0.003222, 0.002419], "nice": false, "zero": false},
              "axis": {"orient": "right", "values": [0.001906, 0, -0.002479], "tickCount": 10, "labelExpr": "datum.value == 0 ? '0.00' : format(datum.value, '.6f')", "domain": false, "grid": false, "tickSize": 4, "tickColor": "black", "labelPadding": 2, "labelFont": "Liberation Sans", "labelFontSize": 8.6, "labelColor": "black", "labelOverlap": false, "labelBound": false, "labelFlush": false, "labelSeparation": 0,
                "title": "MACD(12,26,9) -0.000079 -0.000129", "titleAngle": 0, "titleAlign": "left", "titleBaseline": "top", "titleX": -1312, "titleY": 3, "titleFont": "Liberation Sans", "titleFontSize": 9, "titleFontWeight": "normal", "titleColor": "black"}},
            "y2": {"datum": 0}
          }
        },
        {
          "data": {"name": "signal"},
          "mark": {"type": "line", "color": "#ff0000", "strokeWidth": 1, "strokeDash": [2, 2], "clip": true},
          "encoding": {
            "x": {"field": "i", "type": "quantitative", "scale": {"domain": [0, 329], "nice": false, "zero": false}},
            "y": {"field": "v", "type": "quantitative", "scale": {"domain": [-0.003222, 0.002419], "nice": false, "zero": false}}
          }
        }
      ]
    }
  ]
}
